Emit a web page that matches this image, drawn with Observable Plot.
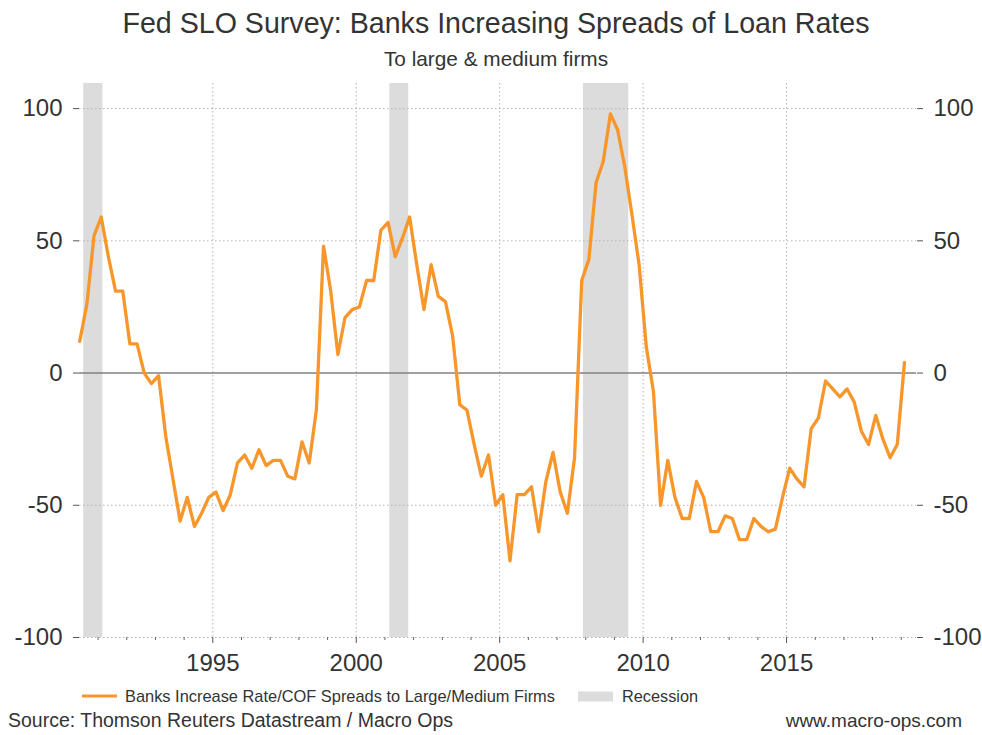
<!DOCTYPE html>
<html>
<head>
<meta charset="utf-8">
<script src="https://cdn.jsdelivr.net/npm/d3@7"></script>
<script src="https://cdn.jsdelivr.net/npm/@observablehq/plot@0.6"></script>
<style>
  html, body { margin: 0; padding: 0; background: #fff; }
  #chart { width: 982px; height: 735px; position: relative; }
  svg { font-family: "Liberation Sans", Arial, sans-serif; }
</style>
</head>
<body>
<div id="chart"></div>
<script>
// Quarterly survey readings (net % of banks increasing spreads, large & medium firms)
const startYear = 1990.36;
const quarterStep = 0.25;
const spreads = [
  12, 26, 52, 59, 44, 31, 31, 11, 11, 0,
  -4, -1, -24, -40, -56, -47, -58, -53, -47, -45,
  -52, -46, -34, -31, -36, -29, -35, -33, -33, -39,
  -40, -26, -34, -14, 48, 31, 7, 21, 24, 25,
  35, 35, 54, 57, 44, 51, 59, 41, 24, 41,
  29, 27, 14, -12, -14, -27, -39, -31, -50, -46,
  -71, -46, -46, -43, -60, -41, -30, -45, -53, -32,
  35, 43, 72, 80, 98, 92, 78, 60, 41, 10,
  -7, -50, -33, -47, -55, -55, -41, -47, -60, -60,
  -54, -55, -63, -63, -55, -58, -60, -59, -47, -36,
  -40, -43, -21, -17, -3, -6, -9, -6, -11, -22,
  -27, -16, -25, -32, -27, 4
];
const recessionStart = [1990.5, 2001.17, 2007.92];
const recessionEnd = [1991.17, 2001.83, 2009.5];
const yTicks = [-100, -50, 0, 50, 100];
const yGrid = [-100, -50, 50, 100];
const xTicks = [1995, 2000, 2005, 2010, 2015];
const minorYears = [1991, 1992, 1993, 1994, 1996, 1997, 1998, 1999, 2001, 2002, 2003, 2004,
  2006, 2007, 2008, 2009, 2011, 2012, 2013, 2014, 2016, 2017, 2018, 2019];

const titleText = "Fed SLO Survey: Banks Increasing Spreads of Loan Rates";
const subtitleText = "To large & medium firms";
const seriesName = "Banks Increase Rate/COF Spreads to Large/Medium Firms";
const recessionName = "Recession";
const sourceText = "Source: Thomson Reuters Datastream / Macro Ops";
const siteText = "www.macro-ops.com";

const data = spreads.map((v, i) => ({date: startYear + i * quarterStep, value: v}));
const recessions = recessionStart.map((s, i) => ({start: s, end: recessionEnd[i]}));

const orange = "#f7962b";
const grey = "#dcdcdc";
const textColor = "#333";
const fmt = d => String(d);

const svg = Plot.plot({
  width: 982,
  height: 735,
  marginLeft: 79,
  marginRight: 66,
  marginTop: 83,
  marginBottom: 98,
  style: {fontFamily: "'Liberation Sans', Arial, sans-serif", background: "#fff", color: textColor},
  x: {type: "linear", domain: [1990.353, 2019.53]},
  y: {domain: [-100, 109.5]},
  marks: [
    Plot.rect(recessions, {x1: "start", x2: "end", fill: grey}),
    Plot.gridY(yGrid, {stroke: "#b3b3b3", strokeOpacity: 1, strokeWidth: 1, strokeDasharray: "1.5,2.5"}),
    Plot.gridX(xTicks, {stroke: "#b3b3b3", strokeOpacity: 1, strokeWidth: 1, strokeDasharray: "1.5,2.5"}),
    Plot.ruleY([0], {stroke: "#808080", strokeWidth: 1.6}),
    Plot.line(data, {x: "date", y: "value", stroke: orange, strokeWidth: 3.3, strokeLinejoin: "round", strokeLinecap: "round"}),
    Plot.axisY(yTicks, {anchor: "left", tickSize: 6, tickPadding: 11, fontSize: 24, tickFormat: fmt, label: null, fill: textColor, stroke: "#555"}),
    Plot.axisY(yTicks, {anchor: "right", tickSize: 6, tickPadding: 11, fontSize: 24, tickFormat: fmt, label: null, fill: textColor, stroke: "#555", textAnchor: "start"}),
    Plot.axisX(xTicks, {anchor: "bottom", tickSize: 6, tickPadding: 10, fontSize: 24, tickFormat: fmt, label: null, fill: textColor, stroke: "#555"}),
    Plot.axisX(minorYears, {anchor: "bottom", tickSize: 3, label: null, fill: "none", stroke: "#666"})
  ]
});

const s = d3.select(svg);
const font = "'Liberation Sans', Arial, sans-serif";
function addText(str, x, y, size, anchor) {
  s.append("text").attr("x", x).attr("y", y).attr("text-anchor", anchor)
    .attr("font-family", font).attr("font-size", size).attr("fill", textColor).text(str);
}
addText(titleText, 496, 32.7, 28.6, "middle");
addText(subtitleText, 496, 66.3, 20.8, "middle");
// legend
s.append("line").attr("x1", 82).attr("x2", 117).attr("y1", 696).attr("y2", 696)
  .attr("stroke", orange).attr("stroke-width", 3.2);
addText(seriesName, 125, 702, 16.4, "start");
s.append("rect").attr("x", 578).attr("y", 691.5).attr("width", 35).attr("height", 10).attr("fill", grey);
addText(recessionName, 622, 702, 16.3, "start");
// footer
addText(sourceText, 8, 726.7, 19.5, "start");
addText(siteText, 962, 726.7, 19, "end");

document.getElementById("chart").appendChild(svg);
</script>
</body>
</html>
